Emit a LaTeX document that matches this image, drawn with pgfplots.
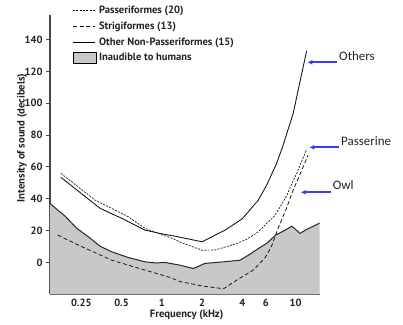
\documentclass[border=0pt]{standalone}
\usepackage{fontspec}
\setmainfont{PT Sans}
\newfontfamily\annotfont{Carlito}
\usepackage{pgfplots}
\pgfplotsset{compat=1.18}
\usetikzlibrary{arrows.meta}
\definecolor{fillgray}{RGB}{200,200,200}
\definecolor{axgray}{RGB}{70,70,70}
\definecolor{arrblue}{RGB}{60,60,245}
\definecolor{txtgray}{RGB}{35,35,35}

\begin{document}
\begin{tikzpicture}
\path[use as bounding box] (-50bp,-30.7bp) rectangle (353bp,294.3bp);
\begin{axis}[
  at={(0,0)}, anchor=south west,
  scale only axis, width=269.5bp, height=279.3bp,
  xmode=log, xmin=0.146, xmax=15.1, ymin=-20, ymax=155.5,
  axis x line=bottom, axis y line=left,
  axis line style={-, axgray, line width=1.1pt},
  xtick={0.25,0.5,1,2,4,6,10}, xticklabels={0.25,0.5,1,2,4,6,10},
  ytick={0,20,...,140},
  minor xtick={},
  tick align=outside, major tick length=4bp,
  tick style={axgray, line width=1pt},
  xtick style={yshift=4bp},
  tick label style={font=\bfseries\fontsize{10.5}{12}\selectfont, text=txtgray},
  xticklabel style={yshift=3bp},
  /pgf/number format/assume math mode=true,
  xlabel={Frequency (kHz)}, ylabel={Intensity of sound (decibels)},
  label style={font=\bfseries\fontsize{10.7}{12}\selectfont, text=txtgray},
  xlabel style={at={(axis description cs:0.507,-0.0824)}, anchor=base},
  ylabel style={at={(axis description cs:-0.104,0.56)}, anchor=center},
  clip=false,
  legend style={at={(axis description cs:0.0835,1.043)}, anchor=north west,
    draw=none, fill=none, font=\bfseries\fontsize{10.6}{12}\selectfont,
    text=txtgray, row sep=1.9pt, inner sep=0pt, nodes={inner sep=2.5bp}, cells={anchor=west}},
  legend cell align=left,
]
% legend images
\addlegendimage{legend image code/.code={\draw[black, line width=0.7pt, dash pattern=on 2pt off 1.3pt] (0bp,0bp) -- (22bp,0bp);}}
\addlegendentry{Passeriformes (20)}
\addlegendimage{legend image code/.code={\draw[black, line width=0.8pt, dash pattern=on 4pt off 2.5pt] (0bp,0bp) -- (22bp,0bp);}}
\addlegendentry{Strigiformes (13)}
\addlegendimage{legend image code/.code={\draw[black, line width=0.9pt] (0bp,0bp) -- (22bp,0bp);}}
\addlegendentry{Other Non-Passeriformes (15)}
\addlegendimage{legend image code/.code={\draw[black, fill=fillgray, line width=0.9pt] (0bp,-5.5bp) rectangle (23bp,5.5bp);}}
\addlegendentry{Inaudible to humans}

% inaudible area
\addplot[fill=fillgray, draw=none, forget plot] coordinates {
(0.146,-20) (0.146,37) (0.19,29) (0.232,21.4) (0.283,16.1) (0.346,10.2) (0.423,6.7)
(0.563,3.1) (0.75,0.4) (0.9,-0.3) (1.06,0) (1.37,-1.7) (1.72,-3.8) (2.1,-0.6)
(2.89,0.4) (3.84,1.4) (4.44,4.6) (5.42,9.4) (6.2,12.5) (7.03,17) (8.34,20.3)
(9.37,22.8) (9.8,21.5) (10.8,18.2) (11.8,20.3) (15.1,24.7) (15.1,-20)} -- cycle;
\addplot[black!85, line width=1pt, forget plot] coordinates {
(0.146,37) (0.19,29) (0.232,21.4) (0.283,16.1) (0.346,10.2) (0.423,6.7)
(0.563,3.1) (0.75,0.4) (0.9,-0.3) (1.06,0) (1.37,-1.7) (1.72,-3.8) (2.1,-0.6)
(2.89,0.4) (3.84,1.4) (4.44,4.6) (5.42,9.4) (6.2,12.5) (7.03,17) (8.34,20.3)
(9.37,22.8) (9.8,21.5) (10.8,18.2) (11.8,20.3) (15.1,24.7)};

% Other non-passeriformes
\addplot[black!90, line width=0.9pt, forget plot] coordinates {
(0.176,53.5) (0.346,34) (0.503,27.7) (0.75,20.3) (1.0,18) (1.26,16.5) (2.0,13)
(2.97,20.3) (4.0,27.5) (5.27,39.2) (6.08,48.6) (7.2,62) (8.0,72.7) (9.6,93.7)
(12.1,133)};

% Passeriformes
\addplot[black!90, line width=0.7pt, dash pattern=on 2pt off 1.3pt, forget plot] coordinates {
(0.176,56) (0.317,39.2) (0.563,28.7) (0.75,21.4) (1.15,15.7) (1.4,12.5) (2.0,7.7)
(2.5,7.8) (3.0,9.8) (3.63,11.9) (4.3,14.5) (5.27,19.3) (7.03,29.7) (8.6,42)
(9.1,47) (10.2,56) (12.1,71)};

% Strigiformes
\addplot[black!90, line width=0.8pt, dash pattern=on 4pt off 2.5pt, forget plot] coordinates {
(0.167,17.2) (0.238,10.9) (0.423,1.4) (0.75,-4.8) (1.15,-9.4) (1.37,-12) (2.05,-14.9)
(2.9,-16.5) (3.63,-11.1) (4.83,-4.8) (5.92,3) (6.6,10) (7.4,21.4) (8.5,33.5)
(9.6,45.5) (11,57) (12.4,67.5)};
\end{axis}

\begin{scope}[shift={(-50bp,294.3bp)}, x=1bp, y=-1bp]
\draw[arrblue, line width=1.6pt, -{Latex[length=5bp,width=5bp]}] (336.7,62.3) -- (307.3,62.3);
\node[anchor=base west, font=\annotfont\fontsize{13}{15}\selectfont, text=txtgray, inner sep=0pt] at (339,61) {Others};
\draw[arrblue, line width=1.6pt, -{Latex[length=5bp,width=5bp]}] (339.3,147.3) -- (309.3,147.3);
\node[anchor=base west, font=\annotfont\fontsize{13}{15}\selectfont, text=txtgray, inner sep=0pt] at (341,146) {Passerine};
\draw[arrblue, line width=1.6pt, -{Latex[length=5bp,width=5bp]}] (331,192.3) -- (300.7,192.3);
\node[anchor=base west, font=\annotfont\fontsize{13}{15}\selectfont, text=txtgray, inner sep=0pt] at (332.7,189.5) {Owl};
\end{scope}
\end{tikzpicture}
\end{document}
